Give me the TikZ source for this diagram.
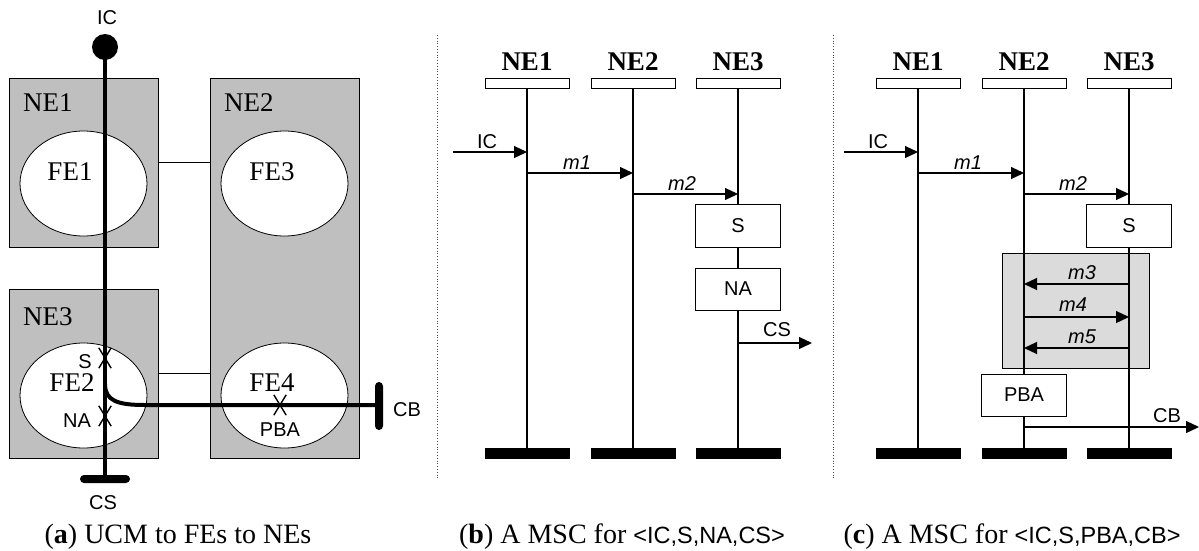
\documentclass[tikz,border=0pt]{standalone}
\usepackage{fontspec}
\setmainfont{Liberation Serif}
\newfontfamily\arial{Liberation Sans}
\usetikzlibrary{shapes.geometric,shapes.misc,arrows.meta}
\definecolor{negray}{gray}{0.75}
\definecolor{pargray}{gray}{0.86}
\begin{document}
\begin{tikzpicture}[x=1pt,y=-1pt,
  nebox/.style={draw, fill=negray, line width=0.8pt, inner sep=0, minimum width=149pt},
  fe/.style={ellipse, draw, fill=white, line width=0.8pt, minimum width=127pt, minimum height=105pt, inner sep=0},
  big/.style={inner sep=0, font=\fontsize{27}{30}\selectfont},
  bigb/.style={inner sep=0, font=\fontsize{27}{30}\selectfont\bfseries},
  sans/.style={inner sep=0, font=\arial\fontsize{20}{22}\selectfont},
  isans/.style={inner sep=0, font=\arial\itshape\fontsize{20}{22}\selectfont},
  capt/.style={inner sep=0, font=\fontsize{28}{30}\selectfont},
  ucm/.style={line width=4pt},
  xmark/.style={cross out, draw, minimum width=11pt, minimum height=19pt, inner sep=0, line width=1.4pt},
  life/.style={line width=2pt},
  msg/.style={line width=1.2pt, -{Triangle[length=13pt,width=12pt]}},
  hdr/.style={draw, fill=white, line width=0.8pt, minimum width=84pt, minimum height=10pt, inner sep=0},
  endbar/.style={fill=black, minimum width=85pt, minimum height=11pt, inner sep=0},
  act/.style={draw, fill=white, line width=0.8pt, minimum width=85pt, minimum height=43pt, inner sep=0, font=\arial\fontsize{20}{22}\selectfont},
  sep/.style={dotted, line width=0.8pt, black!70}
]
\useasboundingbox (0,0) rectangle (1199,550);

% ---------------- Panel (a) ----------------
\node[nebox, minimum height=169pt] (ne1) at (83.5,162.5) {};
\node[nebox, minimum height=380pt] (ne2) at (284.5,268) {};
\node[nebox, minimum height=169pt] (ne3) at (83.5,373.5) {};
\node[big, anchor=west] (ne1l) at (23,103) {NE1};
\node[big, anchor=west] (ne2l) at (224,103) {NE2};
\node[big, anchor=west] (ne3l) at (23,317) {NE3};
\draw[line width=0.8pt] (ne1.east) -- (ne1.east -| ne2.west);
\draw[line width=0.8pt] (ne3.east) -- (ne3.east -| ne2.west);
\node[fe] (fe1) at (83.5,183.5) {};
\node[fe] (fe3) at (284.5,183.5) {};
\node[fe] (fe2) at (83.5,395.5) {};
\node[fe] (fe4) at (284.5,395.5) {};
\node[big] (fe1l) at (70,172) {FE1};
\node[big] (fe3l) at (272,172) {FE3};
\node[big] (fe2l) at (72,383) {FE2};
\node[big] (fe4l) at (272,383) {FE4};

\node[circle, fill=black, minimum size=26pt, inner sep=0] (ic) at (105,47) {};
\node[fill=black, rounded corners=4pt, minimum width=50pt, minimum height=8pt, inner sep=0] (cs) at (105,479) {};
\node[fill=black, rounded corners=4pt, minimum width=8pt, minimum height=48pt, inner sep=0] (cb) at (379,406) {};
\coordinate (br) at (105,384);
\draw[ucm] (ic.center) -- (cs.center);
\draw[ucm] (br) .. controls (105,401) and (118,405) .. (145,405) -- (cb.center |- 0,405);
\node[xmark] (xs) at (105,358) {};
\node[xmark] (xna) at (105,416) {};
\node[xmark] (xpba) at (280,405) {};
\node[sans] (sl) at (85,362) {S};
\node[sans] (nal) at (77,421) {NA};
\node[sans] (pbal) at (280,430) {PBA};
\node[sans, anchor=west] (cbl) at (393,410) {CB};
\node[sans] (icl) at (107,18) {IC};
\node[sans] (csl) at (103,503) {CS};
\node[capt] (capa) at (178,537) {(\textbf{a}) UCM to FEs to NEs};

% ---------------- Panel (b) ----------------
\coordinate (sbt) at (437,35);
\coordinate (sbb) at (437,478);
\draw[sep] (sbt) -- (sbb);
\foreach \n/\x in {1/527,2/633,3/738}{
  \node[hdr] (bh\n) at (\x,83) {};
  \node[endbar] (be\n) at (\x,453.5) {};
  \node[bigb] (bt\n) at (\x,62) {NE\n};
  \draw[life] (bh\n.south) -- (be\n.north);
}
\node[act] (bs) at (738,225.5) {S};
\node[act, minimum height=42pt] (bna) at (738,289) {NA};
\coordinate (bicin) at (453,152);
\coordinate (bcsout) at (812,343);
\draw[msg] (bicin) -- (bicin -| bh1);
\draw[msg] (bh1 |- 0,173) -- (bh2 |- 0,173);
\draw[msg] (bh2 |- 0,194) -- (bh3 |- 0,194);
\draw[msg] (bh3 |- bcsout) -- (bcsout);
\node[sans] (bicl) at (487,142) {IC};
\node[isans] (bm1) at (577,163) {m1};
\node[isans] (bm2) at (682,184) {m2};
\node[sans] (bcsl) at (777,330) {CS};
\node[capt] (capb) at (622,537) {(\textbf{b}) A MSC for {\arial\fontsize{23.5}{25}\selectfont <IC,S,NA,CS>}};

% ---------------- Panel (c) ----------------
\coordinate (sct) at (833,35);
\coordinate (scb) at (833,478);
\draw[sep] (sct) -- (scb);
\node[draw, fill=pargray, line width=0.8pt, minimum width=147pt, minimum height=115pt, inner sep=0] (par) at (1075.5,310.5) {};
\foreach \n/\x in {1/918,2/1024,3/1129}{
  \node[hdr] (ch\n) at (\x,83) {};
  \node[endbar] (ce\n) at (\x,453.5) {};
  \node[bigb] (ct\n) at (\x,62) {NE\n};
  \draw[life] (ch\n.south) -- (ce\n.north);
}
\node[act] (cs2) at (1129,225.5) {S};
\node[act, minimum height=42pt] (cpba) at (1024,395) {PBA};
\coordinate (cicin) at (844,152);
\coordinate (ccbout) at (1199,427);
\draw[msg] (cicin) -- (cicin -| ch1);
\draw[msg] (ch1 |- 0,173) -- (ch2 |- 0,173);
\draw[msg] (ch2 |- 0,194) -- (ch3 |- 0,194);
\draw[msg] (ch3 |- 0,284) -- (ch2 |- 0,284);
\draw[msg] (ch2 |- 0,317) -- (ch3 |- 0,317);
\draw[msg] (ch3 |- 0,348) -- (ch2 |- 0,348);
\draw[msg] (ch2 |- ccbout) -- (ccbout);
\node[sans] (cicl) at (878,142) {IC};
\node[isans] (cm1) at (968,163) {m1};
\node[isans] (cm2) at (1073,184) {m2};
\node[isans] (cm3) at (1082,273) {m3};
\node[isans] (cm4) at (1073,305) {m4};
\node[isans] (cm5) at (1082,337) {m5};
\node[sans] (ccbl) at (1167,416) {CB};
\node[capt] (capc) at (1012,537) {(\textbf{c}) A MSC for {\arial\fontsize{23.5}{25}\selectfont <IC,S,PBA,CB>}};
\end{tikzpicture}
\end{document}
